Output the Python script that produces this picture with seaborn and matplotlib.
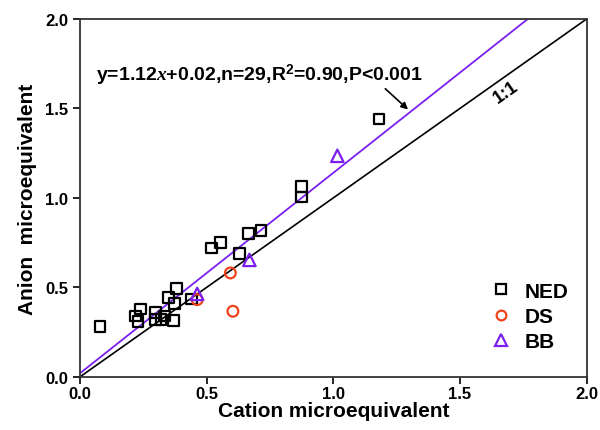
import matplotlib
matplotlib.use("Agg")
import matplotlib.pyplot as plt
import seaborn as sns
import pandas as pd
import numpy as np
from matplotlib.lines import Line2D

# ---- data ----
groups = ["NED", "DS", "BB"]
ned_x = [0.08, 0.22, 0.23, 0.24, 0.30, 0.30, 0.32, 0.335, 0.37, 0.35, 0.38, 0.375,
         0.44, 0.52, 0.555, 0.63, 0.665, 0.715, 0.875, 0.875, 1.18]
ned_y = [0.28, 0.34, 0.31, 0.38, 0.36, 0.32, 0.32, 0.34, 0.315, 0.445, 0.495, 0.41,
         0.435, 0.72, 0.75, 0.69, 0.80, 0.82, 1.065, 1.005, 1.44]
ds_x = [0.463, 0.594, 0.604]
ds_y = [0.432, 0.581, 0.367]
bb_x = [0.463, 0.669, 1.016]
bb_y = [0.464, 0.654, 1.235]
fit_slope = 1.12
fit_intercept = 0.02
equation = "y=1.12$\\mathit{x}$+0.02,n=29,R$^2$=0.90,P<0.001"
xticks = [0.0, 0.5, 1.0, 1.5, 2.0]
yticks = [0.0, 0.5, 1.0, 1.5, 2.0]

colors = {"NED": "#000000", "DS": "#F0421A", "BB": "#7A1FF0"}
markers = {"NED": "s", "DS": "o", "BB": "^"}

df = pd.concat([
    pd.DataFrame({"cation": ned_x, "anion": ned_y, "group": "NED"}),
    pd.DataFrame({"cation": ds_x, "anion": ds_y, "group": "DS"}),
    pd.DataFrame({"cation": bb_x, "anion": bb_y, "group": "BB"}),
])

sns.set_theme(style="ticks")
plt.rcParams["font.family"] = ["Liberation Sans", "DejaVu Sans"]
plt.rcParams["font.weight"] = "bold"
plt.rcParams["text.color"] = "black"
plt.rcParams["axes.labelcolor"] = "black"
plt.rcParams["mathtext.fontset"] = "custom"
plt.rcParams["mathtext.rm"] = "Liberation Sans:bold"
plt.rcParams["mathtext.it"] = "Liberation Serif:italic"

fig = plt.figure(figsize=(6.0, 4.31), dpi=100)
ax = fig.add_axes([0.133, 0.123, 0.845, 0.831])

# 1:1 line
ax.plot([0, 2], [0, 2], color="black", lw=1.2, zorder=2)
# regression line
xe = (2.0 - fit_intercept) / fit_slope
ax.plot([0, xe], [fit_intercept, fit_intercept + fit_slope * xe], color=colors["BB"], lw=1.3, zorder=2)

for g in groups:
    sub = df[df["group"] == g]
    sns.scatterplot(data=sub, x="cation", y="anion", marker=markers[g], s=60 if g != "BB" else 80,
                    facecolor="none", edgecolor=colors[g], linewidth=1.6, ax=ax, zorder=3)

ax.set_xlim(0, 2)
ax.set_ylim(0, 2)
ax.set_xticks(xticks)
ax.set_yticks(yticks)
ax.set_xticklabels([f"{v:.1f}" for v in xticks], fontsize=12, fontweight="bold")
ax.set_yticklabels([f"{v:.1f}" for v in yticks], fontsize=12, fontweight="bold")
ax.tick_params(direction="out", length=5, width=1.2, colors="black", labelcolor="black")
ax.tick_params(axis="x", pad=1.5)
for sp in ax.spines.values():
    sp.set_visible(True)
    sp.set_color("#333333")
    sp.set_linewidth(1.3)

ax.set_xlabel("Cation microequivalent", fontsize=15, fontweight="bold", labelpad=0)
ax.set_ylabel("Anion  microequivalent", fontsize=15, fontweight="bold", labelpad=6)

ax.text(0.063, 1.69, equation, fontsize=14, fontweight="bold", va="center", ha="left")
ax.annotate("", xy=(1.303, 1.483), xytext=(1.197, 1.62),
            arrowprops=dict(arrowstyle="-|>", color="black", lw=1.2, mutation_scale=10))
ax.text(1.68, 1.59, "1:1", fontsize=13, fontweight="bold", rotation=35.2,
        ha="center", va="center", rotation_mode="anchor")

handles = [Line2D([], [], marker=markers[g], ls="none", mfc="none", mec=colors[g],
                  mew=1.6, ms=7 if g != "BB" else 8) for g in groups]
leg = ax.legend(handles, groups, loc="lower right", frameon=False,
                bbox_to_anchor=(1.0, 0.02), handlelength=1.2, handletextpad=0.5,
                labelspacing=0.3, prop={"weight": "bold", "size": 15})

fig.savefig("out.png", dpi=100)
